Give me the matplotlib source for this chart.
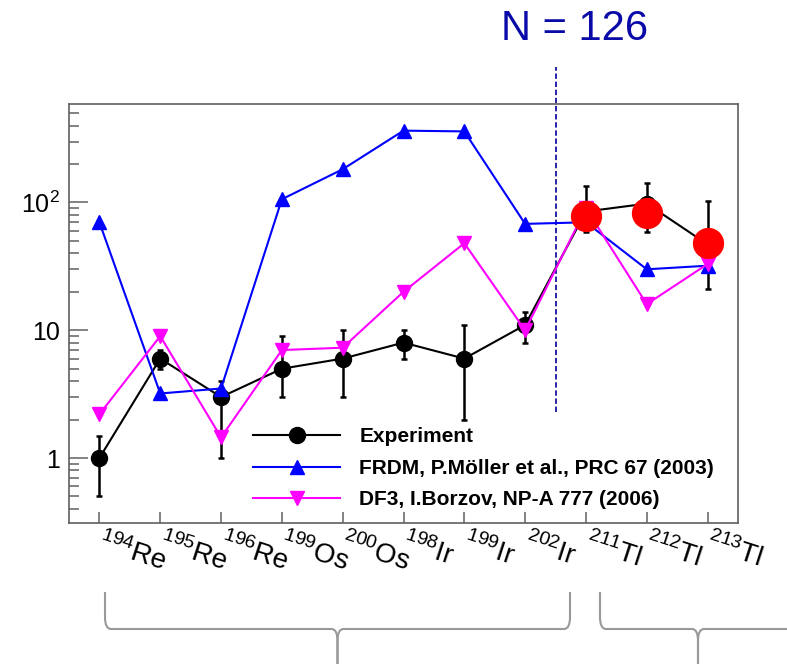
import matplotlib
matplotlib.use('Agg')
import matplotlib.pyplot as plt
from matplotlib.path import Path
from matplotlib.patches import PathPatch
from matplotlib.ticker import LogLocator, NullFormatter

plt.rcParams['font.family'] = 'Liberation Sans'
plt.rcParams['mathtext.fontset'] = 'custom'
plt.rcParams['mathtext.rm'] = 'Liberation Sans'
plt.rcParams['mathtext.it'] = 'Liberation Sans:italic'
plt.rcParams['mathtext.bf'] = 'Liberation Sans:bold'

# nuclei along the x axis
masses = [194, 195, 196, 199, 200, 198, 199, 202, 211, 212, 213]
elements = ['Re', 'Re', 'Re', 'Os', 'Os', 'Ir', 'Ir', 'Ir', 'Tl', 'Tl', 'Tl']

# measured half-lives with asymmetric errors
exp_vals = [1.0, 6.0, 3.0, 5.0, 6.0, 8.0, 6.0, 11.0, 85, 98, 47]
exp_err_up = [0.5, 1.0, 1.0, 4.0, 4.0, 2.0, 5.0, 3.0, 50, 44, 55]
exp_err_dn = [0.5, 1.0, 2.0, 2.0, 3.0, 2.0, 4.0, 3.0, 26, 39, 26]

# new Tl results (highlighted)
tl_idx = [8, 9, 10]
tl_vals = [79, 83, 48]

# model predictions
frdm_vals = [70, 3.2, 3.5, 106, 182, 365, 360, 68, 70, 30, 32]
df3_vals = [2.2, 9.0, 1.45, 7.0, 7.3, 20, 48, 10, 90, 16, 33]

labels = ['Experiment', 'FRDM, P.M\u00f6ller et al., PRC 67 (2003)',
          'DF3, I.Borzov, NP-A 777 (2006)']

x = list(range(len(masses)))

fig = plt.figure(figsize=(7.87, 6.64), dpi=100)
ax = fig.add_axes([69 / 787, 1 - 523 / 664, 669 / 787, 419 / 664])

ax.errorbar(x, exp_vals, yerr=[exp_err_dn, exp_err_up], fmt='none',
            ecolor='black', elinewidth=1.8, capsize=2.2, capthick=1.8, zorder=2)
l_exp, = ax.plot(x, exp_vals, color='black', lw=1.5, marker='o', ms=11.5, zorder=2)
l_frdm, = ax.plot(x, frdm_vals, color='#0000ff', lw=1.5, marker='^', ms=10.5, zorder=3)
l_df3, = ax.plot(x, df3_vals, color='#ff00ff', lw=1.5, marker='v', ms=10.5, zorder=4)
ax.plot(tl_idx, tl_vals, ls='none', marker='o', ms=21.5, color='#ff0000',
        mec='#ff0000', zorder=5)

ax.set_yscale('log')
ax.set_xlim(-0.5, 10.5)
ax.set_ylim(0.31, 590)

frame = '#606060'
for s in ax.spines.values():
    s.set_color(frame)
    s.set_linewidth(1.2)

ax.set_yticks([1, 10, 100])
ax.set_yticklabels(['1', '10', r'$10^{2}$'], fontsize=18)
ax.yaxis.set_minor_locator(LogLocator(base=10, subs=range(2, 10)))
ax.yaxis.set_minor_formatter(NullFormatter())
ax.tick_params(axis='y', which='major', direction='in', length=14, width=1.1,
               color=frame, pad=6.5)
ax.tick_params(axis='y', which='minor', direction='in', length=7, width=1.1,
               color=frame)
ax.set_xticks(x)
ax.tick_params(axis='x', which='major', direction='in', length=8, width=1.1,
               color=frame, labelbottom=False)
ax.tick_params(axis='x', which='minor', bottom=False)

# isotope names, tilted
for i, (m, el) in enumerate(zip(masses, elements)):
    ax.text(i + 0.065, -0.012, r'$^{%d}$%s' % (m, el), transform=ax.get_xaxis_transform(),
            ha='left', va='top', rotation=-18, rotation_mode='anchor', fontsize=20)

# N = 126 shell closure
ax.axvline(7.5, ymin=0.266, ymax=1.089, clip_on=False, color='#1414a0',
           lw=1.3, dashes=(3, 1.5))
fig.text(575 / 787, 1 - 29 / 664, 'N = 126', ha='center', va='center',
         fontsize=30, color='#0a0aa8')

ax.legend([l_exp, l_frdm, l_df3], labels, loc='upper left',
          bbox_to_anchor=(0.275, 0.228), frameon=False, numpoints=1,
          prop={'weight': 'bold', 'size': 15}, handlelength=4.2,
          handletextpad=0.9, labelspacing=0.6, borderpad=0, borderaxespad=0)


def brace(x0, xc, ytop, ymid, ybot, r=6):
    # curly bracket in pixel coordinates (y down), drawn as two mirrored halves
    W, H = 787.0, 664.0

    def p(px, py):
        return (px / W, 1 - py / H)

    verts = [p(x0, ytop), p(x0, ymid - 2 * r), p(x0, ymid), p(x0 + r, ymid),
             p(xc - r, ymid), p(xc, ymid), p(xc, ymid + 2 * r), p(xc, ybot)]
    codes = [Path.MOVETO, Path.LINETO, Path.CURVE3, Path.CURVE3,
             Path.LINETO, Path.CURVE3, Path.CURVE3, Path.LINETO]
    for vv in (verts, [(2 * xc / W - a, b) for a, b in verts]):
        fig.patches.append(PathPatch(Path(vv, codes), transform=fig.transFigure,
                                     fill=False, edgecolor='#999999', lw=1.5))


brace(105, 337.5, 592, 629, 670)
brace(600, 698, 592, 629, 670)

fig.savefig('out.png', dpi=100)
